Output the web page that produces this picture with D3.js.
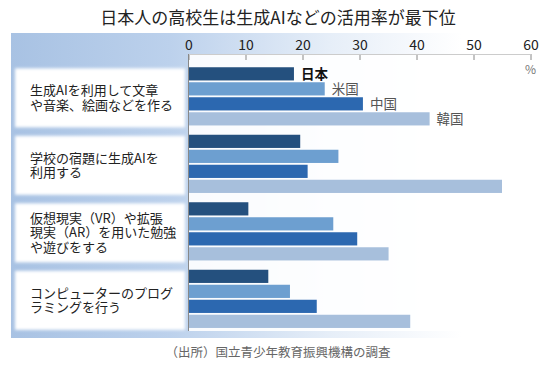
<!DOCTYPE html>
<html>
<head>
<meta charset="utf-8">
<script src="https://d3js.org/d3.v7.min.js"></script>
<style>
  body { margin: 0; background: #fff; font-family: "Noto Sans CJK JP", "Noto Sans", sans-serif; }
  text { font-family: "Noto Sans CJK JP", "Noto Sans", sans-serif; }
</style>
</head>
<body>
<script>
var width = 555, height = 365;

// data
var questions = ["q1", "q2", "q3", "q4"];
var questionLabels = [
  ["生成AIを利用して文章", "や音楽、絵画などを作る"],
  ["学校の宿題に生成AIを", "利用する"],
  ["仮想現実（VR）や拡張", "現実（AR）を用いた勉強", "や遊びをする"],
  ["コンピューターのプログ", "ラミングを行う"]
];
var countries = ["日本", "米国", "中国", "韓国"];
var japan = [18.5, 19.6, 10.5, 14.0];
var usa   = [23.9, 26.3, 25.4, 17.8];
var china = [30.6, 20.9, 29.6, 22.5];
var korea = [42.3, 55.0, 35.1, 38.9];
var ticks = [0, 10, 20, 30, 40, 50, 60];
var colors = ["#24507e", "#6d9fd0", "#2c68b0", "#a7bfdc"];

var series = [japan, usa, china, korea];

var svg = d3.select("body").append("svg")
  .attr("width", width)
  .attr("height", height);

var defs = svg.append("defs");
var bg = defs.append("linearGradient").attr("id", "bg");
bg.append("stop").attr("offset", "0").attr("stop-color", "#a8c2e3");
bg.append("stop").attr("offset", "0.3").attr("stop-color", "#bcd1ec");
bg.append("stop").attr("offset", "0.6").attr("stop-color", "#e6eef8");
bg.append("stop").attr("offset", "0.85").attr("stop-color", "#ffffff");

var blur = defs.append("filter").attr("id", "soft")
  .attr("x", "-10%").attr("y", "-10%").attr("width", "120%").attr("height", "120%");
blur.append("feGaussianBlur").attr("stdDeviation", 1.6);

var x = d3.scaleLinear().domain([0, 60]).range([188.5, 530.5]);
var y0 = d3.scaleBand().domain(questions).range([62.6, 332.6])
  .paddingInner(0.111).paddingOuter(0.0555);
var y1 = d3.scaleBand().domain(countries).range([0, y0.bandwidth()])
  .paddingInner(0.12).paddingOuter(0.06);
var color = d3.scaleOrdinal().domain(countries).range(colors);

// title
svg.append("text")
  .attr("x", 278).attr("y", 24)
  .attr("text-anchor", "middle")
  .attr("font-size", 17)
  .attr("fill", "#222")
  .text("日本人の高校生は生成AIなどの活用率が最下位");

// background panel
svg.append("rect")
  .attr("x", 11).attr("y", 33)
  .attr("width", 530).attr("height", 305)
  .attr("fill", "url(#bg)");

// plot area
svg.append("rect")
  .attr("x", x(0)).attr("y", 54)
  .attr("width", 350).attr("height", 277)
  .attr("fill", "#fff")
  .attr("opacity", 0.9);

// label boxes
var groups = svg.selectAll(".grp")
  .data(questions)
  .enter().append("g")
  .attr("class", "grp")
  .attr("transform", function(d) { return "translate(0," + y0(d) + ")"; });

groups.append("rect")
  .attr("x", 15).attr("y", 2)
  .attr("width", 170).attr("height", y0.bandwidth() - 1)
  .attr("fill", "#fff")
  .attr("filter", "url(#soft)");

groups.each(function(q, i) {
  var lines = questionLabels[i];
  var mid = 2 + (y0.bandwidth() - 1) / 2;
  var lh = 14.5;
  var t = d3.select(this).append("text")
    .attr("font-size", 13)
    .attr("fill", "#222");
  lines.forEach(function(l, j) {
    t.append("tspan")
      .attr("x", 30)
      .attr("y", mid + (j - (lines.length - 1) / 2) * lh + 4.5)
      .text(l);
  });
});

// bars
groups.selectAll(".bar")
  .data(function(q, i) {
    return countries.map(function(c, k) { return { c: c, v: series[k][i] }; });
  })
  .enter().append("rect")
  .attr("class", "bar")
  .attr("x", x(0))
  .attr("y", function(d) { return y1(d.c); })
  .attr("width", function(d) { return x(d.v) - x(0); })
  .attr("height", y1.bandwidth())
  .attr("fill", function(d) { return color(d.c); });

// country labels on first group
d3.select(groups.nodes()[0]).selectAll(".clab")
  .data(countries.map(function(c, k) { return { c: c, v: series[k][0] }; }))
  .enter().append("text")
  .attr("class", "clab")
  .attr("x", function(d) { return x(d.v) + 7; })
  .attr("y", function(d) { return y1(d.c) + y1.bandwidth() / 2 + 5; })
  .attr("font-size", 13.5)
  .attr("font-weight", function(d) { return d.c === "日本" ? "bold" : "normal"; })
  .attr("fill", function(d) { return d.c === "日本" ? "#111" : "#555"; })
  .text(function(d) { return d.c; });

// axis
var axis = d3.axisTop(x).tickValues(ticks).tickSize(6).tickPadding(4);
var ax = svg.append("g")
  .attr("transform", "translate(0,60)")
  .call(axis);
ax.select(".domain").remove();
ax.selectAll(".tick line").attr("stroke", "#888");
ax.selectAll(".tick text")
  .attr("font-size", 14)
  .attr("fill", "#222")
  .style("font-family", "'Noto Sans CJK JP', sans-serif");

svg.append("line")
  .attr("x1", x(0)).attr("x2", x(60))
  .attr("y1", 54.5).attr("y2", 54.5)
  .attr("stroke", "#ccc");

svg.append("line")
  .attr("x1", x(0)).attr("x2", x(0))
  .attr("y1", 54).attr("y2", 331)
  .attr("stroke", "#888");

svg.append("text")
  .attr("x", x(60)).attr("y", 74)
  .attr("text-anchor", "middle")
  .attr("font-size", 12)
  .attr("fill", "#777")
  .text("%");

// source
svg.append("text")
  .attr("x", 278).attr("y", 357)
  .attr("text-anchor", "middle")
  .attr("font-size", 12.5)
  .attr("fill", "#666")
  .text("（出所）国立青少年教育振興機構の調査");
</script>
</body>
</html>
